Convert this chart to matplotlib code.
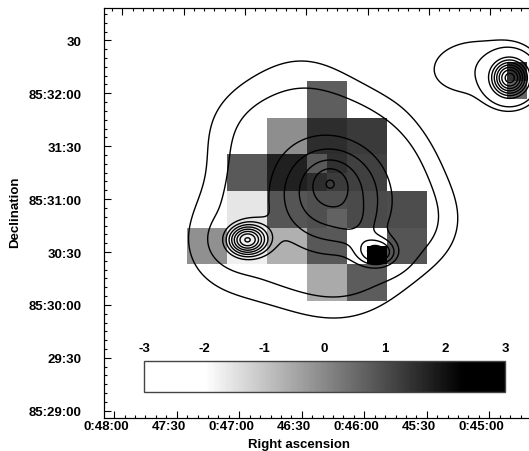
import numpy as np
import matplotlib
matplotlib.use("Agg")
import matplotlib.pyplot as plt
from matplotlib.colors import Normalize
from matplotlib.cm import ScalarMappable
from matplotlib.ticker import MultipleLocator
from matplotlib.transforms import ScaledTranslation

plt.rcParams['font.family'] = ['Liberation Sans', 'DejaVu Sans']
plt.rcParams['font.weight'] = 'bold'
plt.rcParams['font.size'] = 9.5
plt.rcParams['axes.unicode_minus'] = False

# RA in seconds of time, Dec in arcsec above 85:00:00
ra_ticks = [2880, 2850, 2820, 2790, 2760, 2730, 2700]
ra_labels = ["0:48:00", "47:30", "0:47:00", "46:30", "0:46:00", "45:30", "0:45:00"]
dec_ticks = [1740, 1770, 1800, 1830, 1860, 1890, 1920, 1950]
dec_labels = ["85:29:00", "29:30", "85:30:00", "30:30", "85:31:00", "31:30", "85:32:00", "30"]

# grey pixel image (rows from top), value scale -3..3
n = np.nan
pix_vals = np.array([
    [n, n, n, n, n, n, n, n, n, n, n, n, n, n, n, n, 1.44],
    [n, n, n, n, n, n, 0.71, 0.71, n, n, n, n, n, n, n, n, 0.58],
    [n, n, n, n, n, n, 0.71, 0.71, n, n, n, n, n, n, n, n, n],
    [n, n, n, n, -0.1, -0.1, 1.53, 1.53, 1.31, 1.31, n, n, n, n, n, n, n],
    [n, n, n, n, -0.1, -0.1, 1.53, 1.53, 1.31, 1.31, n, n, n, n, n, n, n],
    [n, n, 0.79, 0.79, 1.76, 1.76, 0.79, 1.48, 1.22, 1.22, n, n, n, n, n, n, n],
    [n, n, 0.79, 0.79, 1.76, 1.76, 1.55, 1.30, 1.22, 1.22, n, n, n, n, n, n, n],
    [n, n, -1.57, -1.57, 0.87, 0.87, 0.96, 0.96, 1.05, 1.05, 0.99, 0.99, n, n, n, n, n],
    [n, n, -1.57, -1.57, 0.87, 0.87, 0.96, 0.64, 1.05, 1.05, 0.99, 0.99, n, n, n, n, n],
    [-0.13, -0.13, -1.74, -1.74, -0.67, -0.67, 0.82, 0.82, -2.3, -2.3, 0.87, 0.87, n, n, n, n, n],
    [-0.13, -0.13, -1.74, -1.74, -0.67, -0.67, 0.82, 0.82, -2.3, 2.5, 0.87, 0.87, n, n, n, n, n],
    [n, n, n, n, n, n, -0.57, -0.57, 0.75, 0.75, n, n, n, n, n, n, n],
    [n, n, n, n, n, n, -0.57, -0.57, 0.75, 0.75, n, n, n, n, n, n, n],
])
pix_ra0, pix_dra = 2845.1, 9.6       # left edge, width (s)
pix_dec0, pix_ddec = 1937.5, 10.41   # top edge, height (arcsec)

# emission components for the contours
src_ra = [2776.5, 2775.5, 2776.5, 2816.3, 2753.4, 2690.1, 2705.4, 2825.3, 2769.3, 2763.0,
          2790.9, 2730.9, 2817.3]
src_dec = [1855.5, 1865.7, 1870.3, 1836.8, 1829.4, 1928.6, 1934.9, 1834.5, 1811.7, 1844.1,
           1919.6, 1845.9, 1899.8]
src_amp = [2.6, 3.5, 1.2, 8.5, 4.5, 9.0, 0.8, 0.65, 0.1, 0.7, 0.5, 0.45, 0.5]
src_sra = [27.8, 21.6, 5.8, 6.7, 6.7, 6.2, 20.2, 18.2, 14.4, 7.2, 19.2, 13.4, 16.8]
src_sdec = [32.9, 23.8, 6.8, 6.2, 5.7, 7.4, 14.7, 21.5, 17.0, 8.5, 22.7, 15.9, 19.8]
levels = [0.5, 1.0, 3, 4, 5, 6, 7, 8, 9, 10, 11]

norm = Normalize(vmin=-2.0, vmax=2.3)
cmap = 'gray_r'

fig = plt.figure(figsize=(5.29, 4.52), dpi=100)
ax = fig.add_axes([104 / 529, (452 - 419) / 452, (531 - 104) / 529, (419 - 9.3) / 452])

ra_edges = pix_ra0 - pix_dra * np.arange(pix_vals.shape[1] + 1)
dec_edges = pix_dec0 - pix_ddec * np.arange(pix_vals.shape[0] + 1)
ax.pcolormesh(ra_edges, dec_edges, np.ma.masked_invalid(pix_vals), cmap=cmap, norm=norm)

gra, gdec = np.meshgrid(np.linspace(2675, 2895, 500), np.linspace(1725, 1975, 500))
field = np.zeros_like(gra)
for r, d, a, sr, sd in zip(src_ra, src_dec, src_amp, src_sra, src_sdec):
    field += a * np.exp(-0.5 * ((gra - r) / sr) ** 2 - 0.5 * ((gdec - d) / sd) ** 2)
ax.contour(gra, gdec, field, levels=levels, colors='black', linewidths=1.0)

ax.set_xlim(2884.9, 2680.0)
ax.set_ylim(1735.9, 1968.2)
ax.set_xticks(ra_ticks)
ax.set_xticklabels(ra_labels)
ax.set_yticks(dec_ticks)
ax.set_yticklabels(dec_labels)
ax.xaxis.set_minor_locator(MultipleLocator(5))
ax.yaxis.set_minor_locator(MultipleLocator(5))
ax.tick_params(which='major', direction='in', length=5, width=0.8)
ax.tick_params(which='minor', direction='in', length=2.5, width=0.8)
ax.tick_params(axis='x', pad=1.5)
ax.tick_params(axis='y', pad=16)
ax.spines['right'].set_visible(False)
for lab in ax.get_xticklabels():
    lab.set_transform(lab.get_transform() + ScaledTranslation(-8 / 100, 0, fig.dpi_scale_trans))

ax2 = ax.twiny()
ax2.set_xlim(2889.0, 2680.0)
ax2.set_xticks(ra_ticks)
ax2.set_xticklabels([])
ax2.xaxis.set_minor_locator(MultipleLocator(5))
ax2.tick_params(which='major', direction='in', length=5, width=0.8)
ax2.tick_params(which='minor', direction='in', length=2.5, width=0.8)
ax2.spines['right'].set_visible(False)

fig.text(299 / 529, 1 - 445 / 452, "Right ascension", ha='center', va='center')
fig.text(15 / 529, 1 - 212 / 452, "Declination", ha='center', va='center', rotation=90)

cax = fig.add_axes([144.3 / 529, 1 - 392.5 / 452, (505 - 144.3) / 529, 30.8 / 452])
cb = fig.colorbar(ScalarMappable(norm=norm, cmap=cmap), cax=cax, orientation='horizontal',
                  boundaries=np.linspace(-3, 3, 301), ticklocation='top')
cb.set_ticks([-3, -2, -1, 0, 1, 2, 3])
cb.ax.tick_params(length=0, pad=5)
cb.outline.set_linewidth(1.0)
cb.outline.set_edgecolor('#444444')

fig.savefig("out.png", dpi=100)
